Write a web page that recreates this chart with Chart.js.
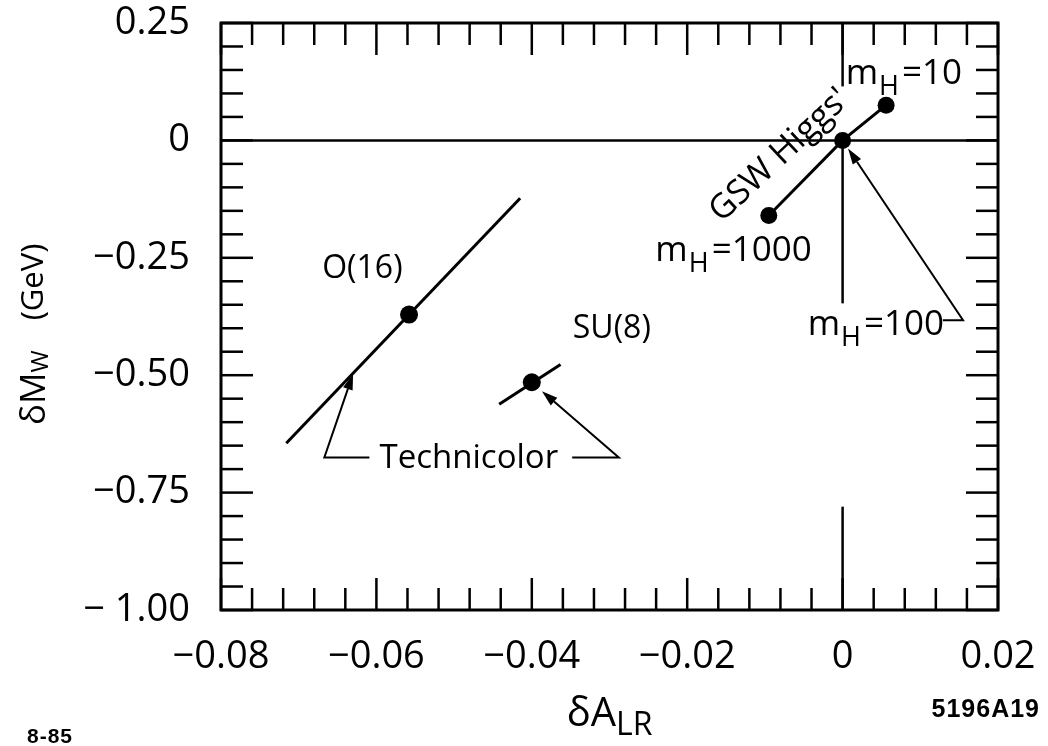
<!DOCTYPE html>
<html>
<head>
<meta charset="utf-8">
<script src="https://cdn.jsdelivr.net/npm/chart.js@4.4.1/dist/chart.umd.min.js"></script>
<style>
  html, body { margin: 0; padding: 0; background: #fff; }
  #wrap { width: 1048px; height: 746px; }
</style>
</head>
<body>
<div id="wrap"><canvas id="chart"></canvas></div>
<script>
// 軸の目盛り
const xTickValues = [-0.08, -0.06, -0.04, -0.02, 0, 0.02];
const xTickLabels = ['−0.08', '−0.06', '−0.04', '−0.02', '0', '0.02'];
const yTickValues = [0.25, 0, -0.25, -0.5, -0.75, -1.0];
const yTickLabels = ['0.25', '0', '−0.25', '−0.50', '−0.75', '− 1.00'];
const xMinorStep = 0.004;
const yMinorStep = 0.05;

// Technicolor O(16) の線
const o16LineX = [-0.0716, -0.0415];
const o16LineY = [-0.645, -0.123];
// Technicolor SU(8) の線
const su8LineX = [-0.0442, -0.0363];
const su8LineY = [-0.562, -0.477];
// Technicolor の点
const technicolorNames = ['O(16)', 'SU(8)'];
const technicolorX = [-0.0558, -0.040];
const technicolorY = [-0.371, -0.515];
// GSW Higgs (m_H = 1000, 100, 10)
const higgsMass = ['1000', '100', '10'];
const higgsX = [-0.0095, 0, 0.0056];
const higgsY = [-0.16, 0, 0.075];

const FAMILY = "'Open Sans', 'DejaVu Sans', sans-serif";
function font(size, weight) {
    return `${weight || 400} ${size}px ${FAMILY}`;
}

function toPoints(xs, ys) {
    return xs.map((v, i) => ({ x: v, y: ys[i] }));
}

function line(ctx, x1, y1, x2, y2) {
    ctx.beginPath();
    ctx.moveTo(x1, y1);
    ctx.lineTo(x2, y2);
    ctx.stroke();
}

function isMajor(v, list) {
    return list.some(t => Math.abs(t - v) < 1e-9);
}

// 文字列を部分ごとに描く（下付き文字用）
function drawParts(ctx, x, y, parts) {
    let cx = x;
    parts.forEach(p => {
        ctx.font = font(p.size);
        ctx.fillText(p.t, cx, y + (p.dy || 0));
        cx += ctx.measureText(p.t).width + (p.gap || 0);
    });
    return cx - x;
}

function partsWidth(ctx, parts) {
    let w = 0;
    parts.forEach(p => {
        ctx.font = font(p.size);
        w += ctx.measureText(p.t).width + (p.gap || 0);
    });
    return w;
}

// 矢印（最後の点が矢の先）
function arrow(ctx, pts) {
    const n = pts.length;
    const [tx, ty] = pts[n - 1];
    const [bx, by] = pts[n - 2];
    const ang = Math.atan2(ty - by, tx - bx);
    const len = 16, half = 5;
    const baseX = tx - len * Math.cos(ang), baseY = ty - len * Math.sin(ang);
    ctx.beginPath();
    ctx.moveTo(pts[0][0], pts[0][1]);
    for (let i = 1; i < n - 1; i++) ctx.lineTo(pts[i][0], pts[i][1]);
    ctx.lineTo(baseX, baseY);
    ctx.stroke();
    ctx.beginPath();
    ctx.moveTo(tx, ty);
    ctx.lineTo(baseX + half * Math.sin(ang), baseY - half * Math.cos(ang));
    ctx.lineTo(baseX - half * Math.sin(ang), baseY + half * Math.cos(ang));
    ctx.closePath();
    ctx.fill();
}

function mhParts(mass) {
    return [
        { t: 'm', size: 35, gap: 1 },
        { t: 'H', size: 27, dy: 11, gap: 3 },
        { t: '=' + mass, size: 35 }
    ];
}

function noPadding(s) {
    s.paddingTop = 0;
    s.paddingBottom = 0;
    s.paddingLeft = 0;
    s.paddingRight = 0;
}

// 枠・目盛り・注釈を描くプラグイン
const framePlugin = {
    id: 'frame',
    beforeDatasetsDraw(chart) {
        const { ctx, chartArea: a, scales: { x, y } } = chart;
        ctx.save();
        ctx.strokeStyle = '#000';
        ctx.lineWidth = 2.5;
        const y0 = y.getPixelForValue(0);
        const x0 = x.getPixelForValue(0);
        line(ctx, a.left, y0, a.right, y0);
        line(ctx, x0, a.top, x0, y.getPixelForValue(0.115));
        line(ctx, x0, y0, x0, y.getPixelForValue(-0.347));
        line(ctx, x0, a.bottom, x0, y.getPixelForValue(-0.78));
        ctx.restore();
    },
    afterDatasetsDraw(chart) {
        const { ctx, chartArea: a, scales: { x, y } } = chart;
        const X = v => x.getPixelForValue(v);
        const Y = v => y.getPixelForValue(v);
        ctx.save();
        ctx.strokeStyle = '#000';
        ctx.fillStyle = '#000';

        // 内向きの目盛り
        ctx.lineWidth = 2.5;
        for (let i = 0; ; i++) {
            const v = x.min + i * xMinorStep;
            if (v > x.max + 1e-9) break;
            const len = isMajor(v, xTickValues) ? 32 : 22;
            const px = X(v);
            line(ctx, px, a.bottom, px, a.bottom - len);
            line(ctx, px, a.top, px, a.top + len);
        }
        for (let i = 0; ; i++) {
            const v = y.max - i * yMinorStep;
            if (v < y.min - 1e-9) break;
            const len = isMajor(v, yTickValues) ? 32 : 22;
            const py = Y(v);
            line(ctx, a.left, py, a.left + len, py);
            line(ctx, a.right, py, a.right - len, py);
        }

        // 枠
        ctx.lineWidth = 3;
        ctx.strokeRect(a.left, a.top, a.right - a.left, a.bottom - a.top);

        // 注釈
        ctx.textAlign = 'center';
        ctx.textBaseline = 'middle';
        ctx.font = font(32);
        ctx.fillText(technicolorNames[0], X(-0.0618), Y(-0.273));
        ctx.fillText(technicolorNames[1], X(-0.0297), Y(-0.402));
        ctx.font = font(33);
        ctx.fillText('Technicolor', X(-0.0481), Y(-0.677));

        ctx.lineWidth = 2;
        arrow(ctx, [[X(-0.0609), Y(-0.675)], [X(-0.0667), Y(-0.675)], [X(-0.0630), Y(-0.497)]]);
        arrow(ctx, [[X(-0.0348), Y(-0.675)], [X(-0.0288), Y(-0.675)], [X(-0.0387), Y(-0.534)]]);
        arrow(ctx, [[X(0.0129), Y(-0.383)], [X(0.0155), Y(-0.383)], [X(0.0007), Y(-0.017)]]);

        ctx.textAlign = 'left';
        ctx.textBaseline = 'alphabetic';
        drawParts(ctx, X(0.0004), Y(0.121), mhParts(higgsMass[2]));
        drawParts(ctx, X(-0.0241), Y(-0.257), mhParts(higgsMass[0]));
        drawParts(ctx, X(-0.0045), Y(-0.415), mhParts(higgsMass[1]));

        // 斜めのラベル
        ctx.save();
        ctx.translate(X(-0.0081), Y(-0.032));
        ctx.rotate(-43.2 * Math.PI / 180);
        ctx.textAlign = 'center';
        ctx.textBaseline = 'middle';
        ctx.font = font(34);
        ctx.fillText("GSW Higgs'", 0, 0);
        ctx.restore();

        // x 軸タイトル
        const xt = [
            { t: 'δA', size: 40 },
            { t: 'LR', size: 32, dy: 9 }
        ];
        const xw = partsWidth(ctx, xt);
        drawParts(ctx, (a.left + a.right) / 2 - xw / 2, a.bottom + 116, xt);

        // y 軸タイトル
        ctx.save();
        ctx.translate(45, 425);
        ctx.rotate(-Math.PI / 2);
        drawParts(ctx, 0, 0, [
            { t: 'δM', size: 35 },
            { t: 'W', size: 24, dy: 3, gap: 30 },
            { t: '(GeV)', size: 31, dy: -2 }
        ]);
        ctx.restore();

        // 図番号
        ctx.font = `bold 21px 'Liberation Sans', sans-serif`;
        ctx.letterSpacing = '1px';
        ctx.textAlign = 'left';
        ctx.fillText('8-85', 27, 743);
        ctx.font = `bold 25px 'Liberation Sans', sans-serif`;
        ctx.textAlign = 'right';
        ctx.fillText('5196A19', 1040, 717);
        ctx.restore();
    }
};

const lineStyle = {
    showLine: true,
    borderColor: '#000',
    borderWidth: 3,
    pointRadius: 0,
    fill: false
};

new Chart(document.getElementById('chart'), {
    type: 'scatter',
    data: {
        datasets: [
            Object.assign({ label: 'O(16)', data: toPoints(o16LineX, o16LineY) }, lineStyle),
            Object.assign({ label: 'SU(8)', data: toPoints(su8LineX, su8LineY) }, lineStyle),
            Object.assign({ label: 'GSW Higgs', data: toPoints(higgsX, higgsY) }, lineStyle,
                { pointRadius: 8.5, pointBackgroundColor: '#000', pointBorderWidth: 0 }),
            {
                label: 'Technicolor',
                data: toPoints(technicolorX, technicolorY),
                showLine: false,
                pointRadius: 9,
                pointBackgroundColor: '#000',
                pointBorderWidth: 0
            }
        ]
    },
    options: {
        responsive: true,
        maintainAspectRatio: false,
        animation: false,
        layout: { padding: { left: 0, top: 23, right: 50, bottom: 0 } },
        plugins: {
            legend: { display: false },
            tooltip: { enabled: false },
            title: { display: false }
        },
        scales: {
            x: {
                type: 'linear',
                min: -0.08,
                max: 0.02,
                grid: { display: false, drawTicks: false },
                border: { display: false },
                afterBuildTicks: s => { s.ticks = xTickValues.map(v => ({ value: v })); },
                afterFit: s => { s.height = 136; noPadding(s); },
                ticks: {
                    autoSkip: false,
                    maxRotation: 0,
                    padding: 24,
                    color: '#000',
                    font: { family: FAMILY, size: 38, weight: '400' },
                    callback: v => xTickLabels[xTickValues.findIndex(t => Math.abs(t - v) < 1e-9)]
                }
            },
            y: {
                type: 'linear',
                min: -1.0,
                max: 0.25,
                grid: { display: false, drawTicks: false },
                border: { display: false },
                afterBuildTicks: s => { s.ticks = yTickValues.map(v => ({ value: v })); },
                afterFit: s => { s.width = 221; noPadding(s); },
                ticks: {
                    autoSkip: false,
                    padding: 31,
                    color: '#000',
                    font: { family: FAMILY, size: 38, weight: '400' },
                    callback: v => yTickLabels[yTickValues.findIndex(t => Math.abs(t - v) < 1e-9)]
                }
            }
        }
    },
    plugins: [framePlugin]
});
</script>
</body>
</html>
